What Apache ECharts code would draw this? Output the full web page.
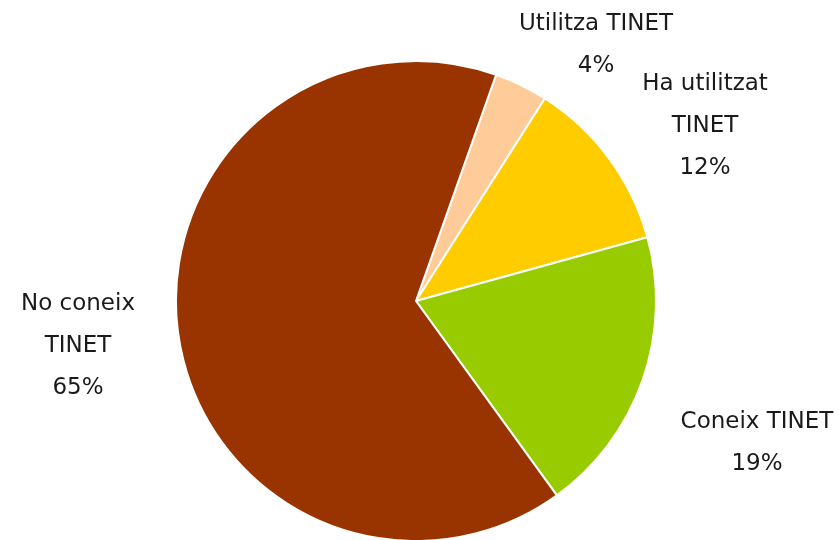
<!DOCTYPE html>
<html><head><meta charset="utf-8">
<script src="https://cdn.jsdelivr.net/npm/echarts@6/dist/echarts.min.js"></script>
<style>html,body{margin:0;padding:0;background:#fff}#c{width:838px;height:540px}</style>
</head><body><div id="c"></div>
<script>
const categories = ['Utilitza TINET', 'Ha utilitzat\nTINET', 'Coneix TINET', 'No coneix\nTINET'];
const values = [3.6, 11.7, 19.3, 65.4];
const colors = ['#FFCC99', '#FFCC00', '#99CC00', '#993300'];

// label block centres (layout only)
const labelPos = [[596, 45], [705, 126], [757, 443], [78, 346]];

const chart = echarts.init(document.getElementById('c'));
chart.setOption({
  animation: false,
  series: [{
    type: 'pie',
    center: [416, 301],
    radius: 240,
    startAngle: 70.5,
    clockwise: true,
    data: categories.map((n, i) => ({ name: n, value: values[i], itemStyle: { color: colors[i] } })),
    itemStyle: { borderColor: '#fff', borderWidth: 2 },
    label: {
      show: true,
      position: 'outside',
      formatter: p => p.name + '\n' + p.percent.toFixed(0) + '%',
      fontFamily: 'DejaVu Sans',
      fontSize: 23,
      lineHeight: 42,
      color: '#1a1a1a',
      align: 'center',
      overflow: 'none',
      edgeDistance: 0,
      bleedMargin: 0
    },
    labelLine: { show: false },
    labelLayout: params => {
      const p = labelPos[params.dataIndex];
      return { x: p[0], y: p[1], align: 'center', verticalAlign: 'middle' };
    }
  }]
});
</script></body></html>
